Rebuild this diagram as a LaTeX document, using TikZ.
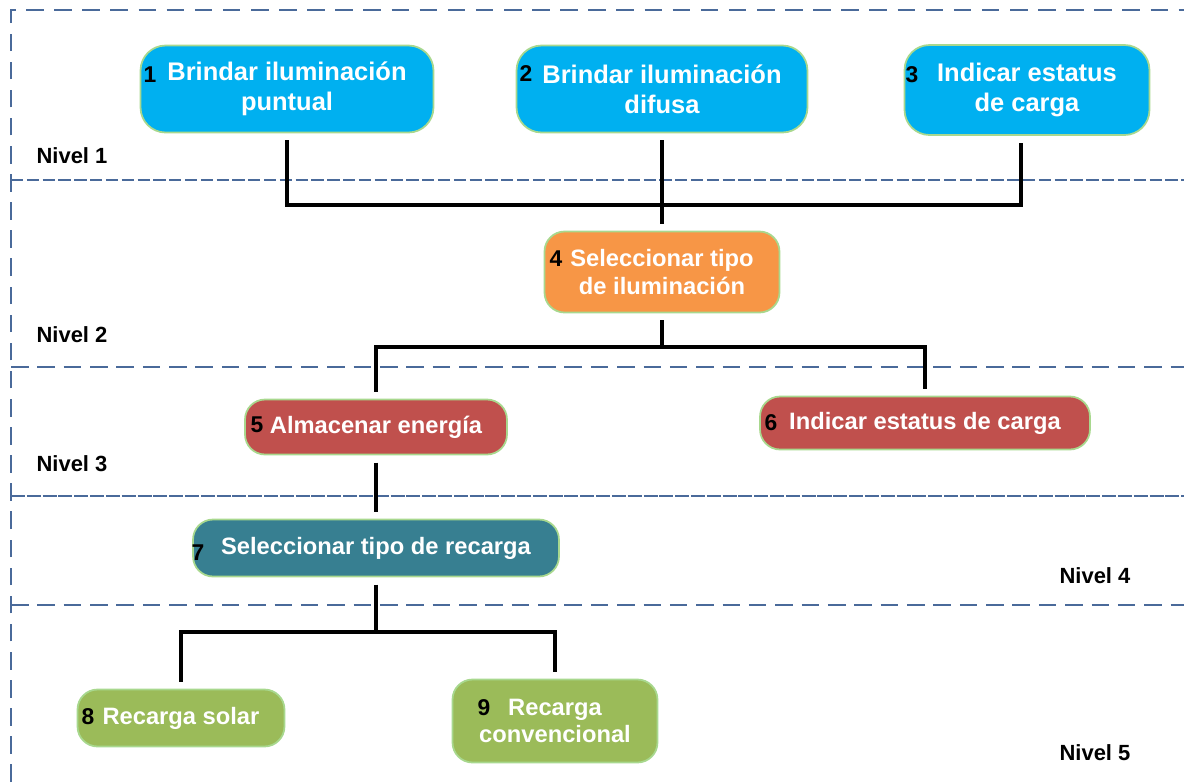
\documentclass[tikz,border=0pt]{standalone}
\usepackage{fontspec}
\setmainfont{Liberation Sans}
\usetikzlibrary{calc}
\definecolor{bluebox}{HTML}{00B0F0}
\definecolor{orangebox}{HTML}{F79646}
\definecolor{redbox}{HTML}{C0504D}
\definecolor{tealbox}{HTML}{377F91}
\definecolor{greenbox}{HTML}{9BBB59}
\definecolor{edgegreen}{HTML}{A8D88E}
\definecolor{levelline}{HTML}{4A6A9A}
\tikzset{
  fbox/.style={draw=edgegreen, line width=1pt, rounded corners=0.4cm, text=white,
    font=\bfseries\fontsize{13.5}{15.5}\selectfont, align=center, inner sep=0pt, outer sep=0.16cm},
  topbox/.style={fbox, fill=bluebox, rounded corners=0.5cm, font=\bfseries\fontsize{14.5}{17}\selectfont},
  lvl/.style={draw=levelline, line width=0.9pt},
  conn/.style={line width=2pt, black},
  numlbl/.style={font=\bfseries\fontsize{13}{15}\selectfont, text=black, inner sep=0pt},
  nivel/.style={font=\bfseries\fontsize{12.5}{15}\selectfont, inner sep=0pt}
}
\begin{document}
\begin{tikzpicture}[x=0.02cm, y=-0.02cm]
\useasboundingbox (0,0) rectangle (1184,782);
% level frame
\coordinate (ftl) at (11,10);
\coordinate (fbl) at (11,782);
\coordinate (ftr) at (1184,10);
\draw[lvl, dash pattern=on 10pt off 6pt] (fbl) -- (ftl) -- (ftr);
\coordinate (l1a) at (11,180);  \coordinate (l1b) at (1184,180);
\coordinate (l2a) at (11,367);  \coordinate (l2b) at (1184,367);
\coordinate (l3a) at (11,496);  \coordinate (l3b) at (1184,496);
\coordinate (l4a) at (11,605);  \coordinate (l4b) at (1184,605);
\draw[lvl, dash pattern=on 7pt off 2pt] (l1a) -- (l1b);
\draw[lvl, dash pattern=on 10pt off 5pt] (l2a) -- (l2b);
\draw[lvl, dash pattern=on 8pt off 1pt] (l3a) -- (l3b);
\draw[lvl, dash pattern=on 10pt off 5pt] (l4a) -- (l4b);

% level labels
\node[nivel] (nv1) at (72,156) {Nivel 1};
\node[nivel] (nv2) at (72,335) {Nivel 2};
\node[nivel] (nv3) at (72,464) {Nivel 3};
\node[nivel] (nv4) at (1095,576) {Nivel 4};
\node[nivel] (nv5) at (1095,753) {Nivel 5};

% boxes
\node[topbox, minimum width=5.86cm, minimum height=1.74cm] (n1) at (287,89) {Brindar iluminación\\puntual};
\node[topbox, minimum width=5.82cm, minimum height=1.74cm] (n2) at (662,89) {Brindar iluminación\\difusa};
\node[topbox, minimum width=4.9cm, minimum height=1.8cm] (n3) at (1027,90) {Indicar estatus\\de carga};
\node[fbox, fill=orangebox, minimum width=4.7cm, minimum height=1.62cm] (n4) at (662,272) {Seleccionar tipo\\de iluminación};
\node[fbox, fill=redbox, minimum width=5.24cm, minimum height=1.1cm] (n5) at (376,427) {Almacenar energía};
\node[fbox, fill=redbox, minimum width=6.6cm, minimum height=1.06cm] (n6) at (925,423) {Indicar estatus de carga};
\node[fbox, fill=tealbox, minimum width=7.32cm, minimum height=1.14cm] (n7) at (376,548) {Seleccionar tipo de recarga};
\node[fbox, fill=greenbox, minimum width=4.14cm, minimum height=1.14cm] (n8) at (181,718) {Recarga solar};
\node[fbox, fill=greenbox, minimum width=4.1cm, minimum height=1.66cm] (n9) at (555,721) {Recarga\\convencional};

% numbers
\node[numlbl] (k1) at (150,75) {1};
\node[numlbl] (k2) at (526,74) {2};
\node[numlbl] (k3) at (912,75) {3};
\node[numlbl] (k4) at (556,259) {4};
\node[numlbl] (k5) at (257,425) {5};
\node[numlbl] (k6) at (771,423) {6};
\node[numlbl] (k7) at (198,553) {7};
\node[numlbl] (k8) at (88,717) {8};
\node[numlbl] (k9) at (484,708) {9};

% connectors
\coordinate (b1) at (662,205);
\coordinate (b2) at (662,347);
\coordinate (b3) at (376,632);
\coordinate (c3) at ($(n3.south)+(-6,0)$);
\draw[conn] (n1.south) |- (b1) -| (c3);
\draw[conn] (n2.south) -- (n4.north);
\draw[conn] (n4.south) -- (b2);
\draw[conn] (n5.north) |- (b2) -| (n6.north);
\draw[conn] (n5.south) -- (n7.north);
\draw[conn] (n7.south) -- (b3);
\draw[conn] (n8.north) |- (b3) -| (n9.north);
\end{tikzpicture}
\end{document}
